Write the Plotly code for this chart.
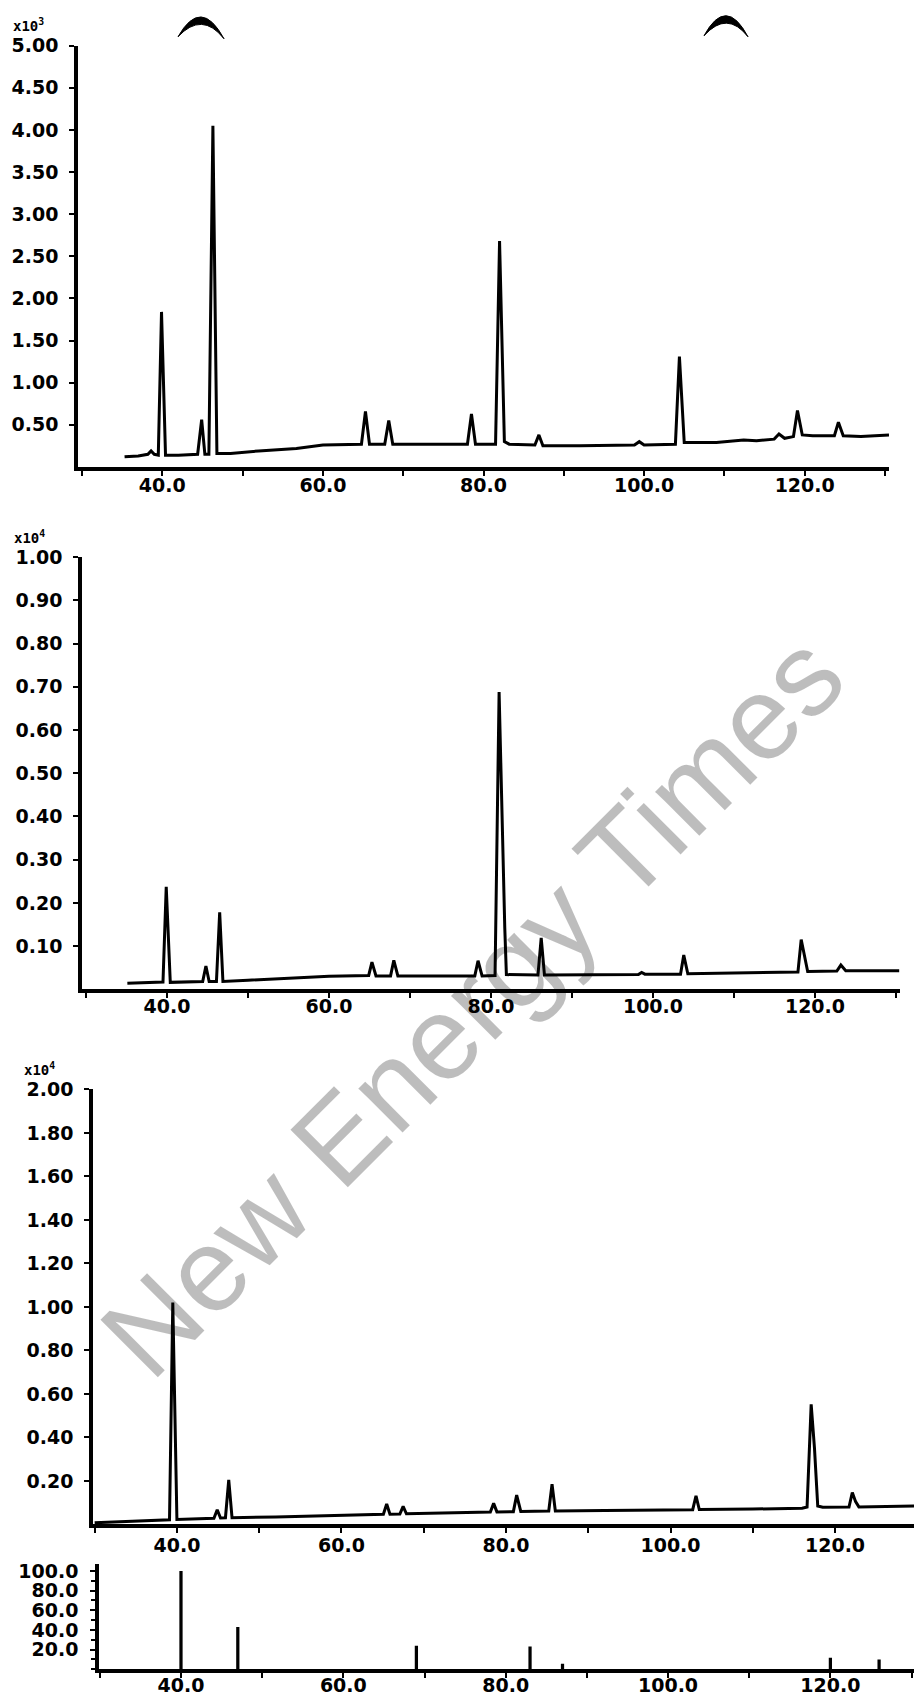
import plotly.graph_objects as go

W, H = 914, 1696

# ---------------- data ----------------
# Panel 1: intensity x10^3 vs m/z
p1_mz = [35.3, 37.0, 38.2, 38.6, 39.0, 39.5, 39.9, 40.4, 42.0, 44.4, 44.9, 45.3, 45.8, 46.3, 46.8,
         48.5, 52.0, 56.7, 60.0, 64.8, 65.3, 65.8, 67.7, 68.2, 68.7, 72.0, 78.0, 78.5, 79.0,
         81.5, 82.0, 82.6, 83.2, 86.4, 86.9, 87.4, 92.0, 98.8, 99.4, 100.0, 103.9, 104.4, 105.0,
         109.0, 112.4, 114.0, 116.2, 116.8, 117.5, 118.6, 119.1, 119.7, 121.0, 123.7, 124.2,
         124.8, 127.0, 130.5]
p1_int = [0.12, 0.13, 0.15, 0.19, 0.15, 0.14, 1.84, 0.14, 0.14, 0.15, 0.56, 0.15, 0.15, 4.05, 0.16,
          0.16, 0.19, 0.22, 0.26, 0.27, 0.66, 0.27, 0.27, 0.55, 0.27, 0.27, 0.27, 0.63, 0.27,
          0.27, 2.68, 0.30, 0.27, 0.26, 0.38, 0.25, 0.25, 0.26, 0.30, 0.26, 0.27, 1.31, 0.29,
          0.29, 0.32, 0.31, 0.33, 0.39, 0.34, 0.36, 0.67, 0.38, 0.37, 0.37, 0.53,
          0.37, 0.36, 0.38]

# Panel 2: intensity x10^4 vs m/z
p2_mz = [35.1, 38.0, 39.5, 39.9, 40.4, 44.4, 44.8, 45.2, 46.1, 46.5, 46.9, 50.0, 55.0, 60.0,
         64.9, 65.3, 65.8, 67.6, 68.0, 68.5, 72.0, 78.0, 78.4, 78.9, 80.5, 81.0, 81.7, 81.9,
         85.8, 86.2, 86.6, 92.0, 98.2, 98.6, 99.0, 103.4, 103.8, 104.3, 110.0, 115.0, 117.9,
         118.3, 118.8, 119.1, 122.7, 123.2, 123.8, 127.0, 130.4]
p2_int = [0.014, 0.016, 0.017, 0.237, 0.016, 0.018, 0.054, 0.018, 0.018, 0.178, 0.018, 0.021,
          0.026, 0.030, 0.032, 0.063, 0.031, 0.031, 0.067, 0.031, 0.031, 0.031, 0.066, 0.031,
          0.032, 0.688, 0.142, 0.034, 0.033, 0.119, 0.033, 0.033, 0.034, 0.039, 0.035, 0.035,
          0.079, 0.036, 0.038, 0.039, 0.040, 0.115, 0.073, 0.041, 0.042, 0.056, 0.043, 0.043,
          0.043]

# Panel 3: intensity x10^4 vs m/z
p3_mz = [30.0, 35.0, 39.1, 39.5, 40.0, 44.5, 44.9, 45.3, 45.9, 46.3, 46.7, 52.0, 60.0, 65.1,
         65.5, 65.9, 67.1, 67.5, 67.9, 72.0, 78.1, 78.5, 78.9, 80.9, 81.3, 81.8, 85.2, 85.6,
         86.0, 92.0, 100.0, 102.7, 103.1, 103.5, 110.0, 116.0, 116.6, 117.1, 117.5, 117.9,
         118.5, 121.7, 122.1, 122.5, 122.9, 126.0, 131.0]
p3_int = [0.008, 0.015, 0.022, 1.02, 0.023, 0.029, 0.068, 0.030, 0.031, 0.205, 0.031, 0.035,
          0.044, 0.047, 0.094, 0.047, 0.048, 0.083, 0.049, 0.052, 0.057, 0.097, 0.058, 0.059,
          0.135, 0.060, 0.062, 0.185, 0.062, 0.064, 0.067, 0.068, 0.132, 0.069, 0.071, 0.075,
          0.080, 0.552, 0.352, 0.085, 0.079, 0.080, 0.147, 0.105, 0.081, 0.083, 0.086]

# Panel 4: library bar spectrum, relative intensity
p4_mz = [40, 47, 69, 83, 87, 120, 126]
p4_rel = [100.0, 43.0, 24.0, 23.0, 5.5, 11.6, 10.0]

x_tick_vals = [40, 60, 80, 100, 120]
y1_ticks = [0.5, 1.0, 1.5, 2.0, 2.5, 3.0, 3.5, 4.0, 4.5, 5.0]
y2_ticks = [0.1, 0.2, 0.3, 0.4, 0.5, 0.6, 0.7, 0.8, 0.9, 1.0]
y3_ticks = [0.2, 0.4, 0.6, 0.8, 1.0, 1.2, 1.4, 1.6, 1.8, 2.0]
y4_ticks = [20, 40, 60, 80, 100]
scale_labels = ["x10<sup>3</sup>", "x10<sup>4</sup>", "x10<sup>4</sup>"]

# ---------------- layout helpers ----------------
def px(x):
    return x / W

def py(y):
    return 1 - y / H

FONT = dict(family="DejaVu Sans", size=19, color="black", weight="bold")

def xaxis(dom, rng, anchor, standoff):
    return dict(domain=[px(dom[0]), px(dom[1])], range=rng, anchor=anchor,
                showline=True, linecolor="black", linewidth=3.5, showgrid=False, zeroline=False,
                ticks="outside", ticklen=5, tickwidth=2, tickcolor="black",
                tickvals=x_tick_vals, tickformat=".1f", tickfont=FONT,
                ticklabelstandoff=standoff,
                minor=dict(dtick=10, tick0=0, ticks="outside", ticklen=5, tickwidth=2,
                           tickcolor="black", showgrid=False))

def yaxis(dom, rng, anchor, tv, fmt, standoff=7, minor=None):
    d = dict(domain=[py(dom[0]), py(dom[1])], range=rng, anchor=anchor,
             showline=True, linecolor="black", linewidth=3.5, showgrid=False, zeroline=False,
             ticks="outside", ticklen=5, tickwidth=2, tickcolor="black",
             tickvals=tv, tickformat=fmt, tickfont=FONT, ticklabelstandoff=standoff)
    if minor:
        d["minor"] = minor
    return d

fig = go.Figure()
line = dict(color="black", width=3)
fig.add_trace(go.Scatter(x=p1_mz, y=p1_int, mode="lines", line=line, xaxis="x", yaxis="y"))
fig.add_trace(go.Scatter(x=p2_mz, y=p2_int, mode="lines", line=line, xaxis="x2", yaxis="y2"))
fig.add_trace(go.Scatter(x=p3_mz, y=p3_int, mode="lines", line=line, xaxis="x3", yaxis="y3"))
fig.add_trace(go.Bar(x=p4_mz, y=p4_rel, width=0.4, marker=dict(color="black", line=dict(width=0)),
                     xaxis="x4", yaxis="y4"))

# crescent-shaped scan marks at the top
def crescent(x0, x1, yl, yr, yo, yi):
    xm = (x0 + x1) / 2
    pts = [(x0, yl), (xm, yo), (x1, yr), (xm + 1, yi), (x0, yl)]
    p = [(px(a), py(b)) for a, b in pts]
    return ("M {0[0]:.5f},{0[1]:.5f} Q {1[0]:.5f},{1[1]:.5f} {2[0]:.5f},{2[1]:.5f} "
            "Q {3[0]:.5f},{3[1]:.5f} {4[0]:.5f},{4[1]:.5f} Z").format(*p)

shapes = [dict(type="path", xref="paper", yref="paper", path=crescent(178, 224, 26, 28, -15, 0),
               fillcolor="black", line=dict(color="black", width=1)),
          dict(type="path", xref="paper", yref="paper", path=crescent(704, 748, 25, 26, -16, -1),
               fillcolor="black", line=dict(color="black", width=1))]

annots = []
for lab, (xx, yy) in zip(scale_labels, [(12, 24), (13, 541), (23, 1078)]):
    annots.append(dict(text=lab, x=px(xx), y=py(yy), xref="paper", yref="paper",
                       xanchor="left", yanchor="bottom", showarrow=False, borderpad=0,
                       font=dict(family="DejaVu Sans Mono", size=14, color="black", weight="bold")))
annots.append(dict(text="New Energy Times", x=px(472), y=py(1003), xref="paper", yref="paper",
                   xanchor="center", yanchor="middle", showarrow=False, textangle=-45,
                   font=dict(family="Liberation Sans", size=118, color="rgba(0,0,0,0.26)")))

fig.update_layout(
    width=W, height=H, margin=dict(l=0, r=0, t=0, b=0),
    paper_bgcolor="white", plot_bgcolor="white", showlegend=False,
    xaxis=xaxis((78, 889), [29.5, 130.5], "y", -6),
    yaxis=yaxis((460, 35), [0, 5.0], "x", y1_ticks, ".2f"),
    xaxis2=xaxis((82, 900), [29.5, 130.5], "y2", -8),
    yaxis2=yaxis((987, 551), [0, 1.0], "x2", y2_ticks, ".2f"),
    xaxis3=xaxis((93, 914), [29.8, 129.6], "y3", -4),
    yaxis3=yaxis((1527, 1088), [0, 2.0], "x3", y3_ticks, ".2f"),
    xaxis4=xaxis((99, 914), [29.9, 130.3], "y4", -9),
    yaxis4=yaxis((1673, 1567), [0, 107.0], "x4", y4_ticks, ".1f", standoff=8,
                 minor=dict(dtick=10, tick0=0, ticks="outside", ticklen=4, tickwidth=2,
                            tickcolor="black", showgrid=False)),
    shapes=shapes, annotations=annots,
)

fig.write_html("out.html", config={"displayModeBar": False},
               post_script="document.body.style.margin='0';")
